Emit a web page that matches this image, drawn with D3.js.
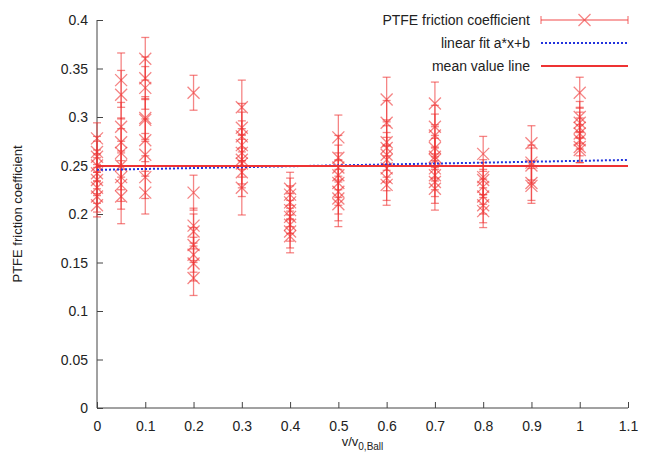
<!DOCTYPE html>
<html lang="en">
<head>
<meta charset="UTF-8">
<title>PTFE friction coefficient vs v/v0,Ball</title>
<script src="https://d3js.org/d3.v7.min.js"></script>
<style>
  body { margin: 0; background: #fff; }
  svg { font-family: "Liberation Sans", Arial, sans-serif; }
</style>
</head>
<body>
<div id="chart"></div>
<script>
// measured points: [x, friction coefficient, error]
const group000 = [[0, 0.278, 0.016], [0, 0.264, 0.016], [0, 0.259, 0.016], [0, 0.250, 0.016], [0, 0.242, 0.016],
                  [0, 0.235, 0.016], [0, 0.227, 0.016], [0, 0.218, 0.016], [0, 0.209, 0.012]];
const group005 = [[0.05, 0.338, 0.028], [0.05, 0.323, 0.025], [0.05, 0.290, 0.025], [0.05, 0.274, 0.025],
                  [0.05, 0.263, 0.025], [0.05, 0.250, 0.025], [0.05, 0.238, 0.025], [0.05, 0.230, 0.025], [0.05, 0.218, 0.028]];
const group010 = [[0.1, 0.360, 0.022], [0.1, 0.340, 0.022], [0.1, 0.330, 0.022], [0.1, 0.299, 0.022], [0.1, 0.297, 0.022],
                  [0.1, 0.276, 0.022], [0.1, 0.261, 0.022], [0.1, 0.238, 0.022], [0.1, 0.222, 0.022]];
const group020 = [[0.2, 0.325, 0.018], [0.2, 0.222, 0.018], [0.2, 0.188, 0.018], [0.2, 0.182, 0.018], [0.2, 0.168, 0.018],
                  [0.2, 0.158, 0.018], [0.2, 0.149, 0.018], [0.2, 0.134, 0.018]];
const group030 = [[0.3, 0.310, 0.028], [0.3, 0.289, 0.025], [0.3, 0.280, 0.025], [0.3, 0.271, 0.025], [0.3, 0.263, 0.025],
                  [0.3, 0.256, 0.025], [0.3, 0.252, 0.025], [0.3, 0.243, 0.025], [0.3, 0.227, 0.028]];
const group040 = [[0.4, 0.226, 0.017], [0.4, 0.220, 0.017], [0.4, 0.212, 0.017], [0.4, 0.204, 0.017],
                  [0.4, 0.197, 0.017], [0.4, 0.189, 0.017], [0.4, 0.182, 0.017], [0.4, 0.177, 0.017]];
const group050 = [[0.5, 0.279, 0.023], [0.5, 0.258, 0.023], [0.5, 0.248, 0.023], [0.5, 0.240, 0.023],
                  [0.5, 0.232, 0.023], [0.5, 0.223, 0.023], [0.5, 0.216, 0.023], [0.5, 0.210, 0.023]];
const group060 = [[0.6, 0.318, 0.023], [0.6, 0.294, 0.023], [0.6, 0.274, 0.023], [0.6, 0.268, 0.023], [0.6, 0.261, 0.023],
                  [0.6, 0.256, 0.023], [0.6, 0.247, 0.023], [0.6, 0.237, 0.023], [0.6, 0.230, 0.021]];
const group070 = [[0.7, 0.314, 0.022], [0.7, 0.290, 0.022], [0.7, 0.281, 0.022], [0.7, 0.268, 0.022], [0.7, 0.259, 0.022],
                  [0.7, 0.256, 0.022], [0.7, 0.247, 0.022], [0.7, 0.240, 0.022], [0.7, 0.233, 0.022], [0.7, 0.226, 0.022]];
const group080 = [[0.8, 0.262, 0.018], [0.8, 0.238, 0.018], [0.8, 0.235, 0.018], [0.8, 0.228, 0.018],
                  [0.8, 0.218, 0.018], [0.8, 0.209, 0.018], [0.8, 0.203, 0.017]];
const group090 = [[0.9, 0.273, 0.018], [0.9, 0.253, 0.018], [0.9, 0.250, 0.018], [0.9, 0.232, 0.018], [0.9, 0.229, 0.018]];
const group100 = [[1.0, 0.325, 0.016], [1.0, 0.300, 0.016], [1.0, 0.294, 0.016], [1.0, 0.289, 0.016],
                  [1.0, 0.283, 0.016], [1.0, 0.276, 0.016], [1.0, 0.269, 0.016], [1.0, 0.266, 0.013]];

const frictionPoints = [].concat(group000, group005, group010, group020, group030, group040,
                                 group050, group060, group070, group080, group090, group100);

const meanValue = 0.2495;     // mean value line
const fitA = 0.0093, fitB = 0.2455;  // linear fit a*x+b

const xTicks = [0, 0.1, 0.2, 0.3, 0.4, 0.5, 0.6, 0.7, 0.8, 0.9, 1, 1.1];
const yTicks = [0, 0.05, 0.1, 0.15, 0.2, 0.25, 0.3, 0.35, 0.4];
const legendLabels = ["PTFE friction coefficient", "linear fit a*x+b", "mean value line"];

const width = 645, height = 464;
const margin = { top: 20, right: 17, bottom: 56, left: 97 };

const red = "#ee3333";
const blue = "#2233dd";

const svg = d3.select("#chart").append("svg")
    .attr("width", width)
    .attr("height", height);

const x = d3.scaleLinear().domain([0, 1.1]).range([margin.left, width - margin.right]);
const y = d3.scaleLinear().domain([0, 0.4]).range([height - margin.bottom, margin.top]);

// axes (gnuplot style: ticks pointing inward)
const xAxis = svg.append("g")
    .attr("transform", `translate(0,${y(0)})`)
    .call(d3.axisTop(x).tickValues(xTicks).tickSize(6).tickFormat(d3.format("")));
xAxis.select(".domain").remove();
xAxis.selectAll(".tick text").remove();
xAxis.selectAll(".tick").append("text")
    .attr("y", 23)
    .attr("fill", "#222")
    .attr("text-anchor", "middle")
    .style("font-size", "14px")
    .text(d => d);

const yAxis = svg.append("g")
    .attr("transform", `translate(${x(0)},0)`)
    .call(d3.axisRight(y).tickValues(yTicks).tickSize(6).tickFormat(d3.format("")));
yAxis.select(".domain").remove();
yAxis.selectAll(".tick text").remove();
yAxis.selectAll(".tick").append("text")
    .attr("x", -9)
    .attr("dy", "0.35em")
    .attr("fill", "#222")
    .attr("text-anchor", "end")
    .style("font-size", "14px")
    .text(d => d);
svg.selectAll(".tick line").attr("stroke", "#444");

// axis lines
svg.append("line")
    .attr("x1", x(0)).attr("x2", x(1.1))
    .attr("y1", y(0)).attr("y2", y(0))
    .attr("stroke", "#444");
svg.append("line")
    .attr("x1", x(0)).attr("x2", x(0))
    .attr("y1", y(0)).attr("y2", y(0.4))
    .attr("stroke", "#444");

// axis titles
svg.append("text")
    .attr("transform", `translate(22,${(y(0) + y(0.4)) / 2}) rotate(-90)`)
    .attr("text-anchor", "middle")
    .attr("fill", "#222")
    .style("font-size", "13px")
    .text("PTFE friction coefficient");

const xTitle = svg.append("text")
    .attr("x", (x(0) + x(1.1)) / 2)
    .attr("y", 446)
    .attr("text-anchor", "middle")
    .attr("fill", "#222")
    .style("font-size", "13px");
xTitle.append("tspan").text("v/v");
xTitle.append("tspan").attr("dy", 4).style("font-size", "10px").text("0,Ball");

// error bars with X markers
const cap = 4, mk = 6;
const pts = svg.append("g")
    .attr("stroke", red)
    .attr("stroke-opacity", 0.6)
    .attr("stroke-width", 1.3)
    .attr("fill", "none");

const pt = pts.selectAll("g")
    .data(frictionPoints)
    .join("g")
    .attr("transform", d => `translate(${x(d[0])},0)`);

pt.append("line")
    .attr("y1", d => y(d[1] + d[2]))
    .attr("y2", d => y(d[1] - d[2]));
pt.append("line")
    .attr("x1", -cap).attr("x2", cap)
    .attr("y1", d => y(d[1] + d[2])).attr("y2", d => y(d[1] + d[2]));
pt.append("line")
    .attr("x1", -cap).attr("x2", cap)
    .attr("y1", d => y(d[1] - d[2])).attr("y2", d => y(d[1] - d[2]));
pt.append("path")
    .attr("d", d => `M${-mk},${y(d[1]) - mk}L${mk},${y(d[1]) + mk}M${-mk},${y(d[1]) + mk}L${mk},${y(d[1]) - mk}`);

// fit line and mean line
svg.append("line")
    .attr("x1", x(0)).attr("x2", x(1.1))
    .attr("y1", y(fitB)).attr("y2", y(fitA * 1.1 + fitB))
    .attr("stroke", blue)
    .attr("stroke-width", 2)
    .attr("stroke-dasharray", "2,2");
svg.append("line")
    .attr("x1", x(0)).attr("x2", x(1.1))
    .attr("y1", y(meanValue)).attr("y2", y(meanValue))
    .attr("stroke", red)
    .attr("stroke-width", 2);

// legend
const legX1 = 541, legX2 = 628;
const legend = svg.append("g");
legendLabels.forEach((label, i) => {
    const ly = 20 + i * 23;
    legend.append("text")
        .attr("x", 530)
        .attr("y", ly)
        .attr("dy", "0.35em")
        .attr("text-anchor", "end")
        .attr("fill", "#222")
        .style("font-size", "14px")
        .text(label);
    if (i === 0) {
        const g = legend.append("g")
            .attr("stroke", red)
            .attr("stroke-opacity", 0.6)
            .attr("stroke-width", 1.3);
        g.append("line").attr("x1", legX1).attr("x2", legX2).attr("y1", ly).attr("y2", ly);
        g.append("line").attr("x1", legX1).attr("x2", legX1).attr("y1", ly - cap).attr("y2", ly + cap);
        g.append("line").attr("x1", legX2).attr("x2", legX2).attr("y1", ly - cap).attr("y2", ly + cap);
        const cx = (legX1 + legX2) / 2;
        g.append("path").attr("fill", "none")
            .attr("d", `M${cx - mk},${ly - mk}L${cx + mk},${ly + mk}M${cx - mk},${ly + mk}L${cx + mk},${ly - mk}`);
    } else if (i === 1) {
        legend.append("line").attr("x1", legX1).attr("x2", legX2).attr("y1", ly).attr("y2", ly)
            .attr("stroke", blue).attr("stroke-width", 2).attr("stroke-dasharray", "2,2");
    } else {
        legend.append("line").attr("x1", legX1).attr("x2", legX2).attr("y1", ly).attr("y2", ly)
            .attr("stroke", red).attr("stroke-width", 2);
    }
});
</script>
</body>
</html>
